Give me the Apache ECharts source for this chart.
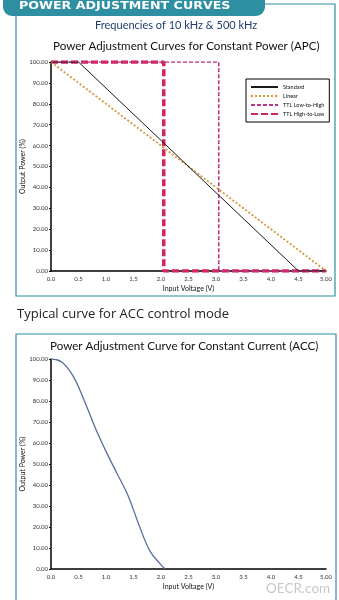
<html lang="en">
<head>
    <meta charset="UTF-8">
    <title>power adjustment curves</title>
    <script src="https://cdn.jsdelivr.net/npm/echarts@6/dist/echarts.min.js"></script>
    <style type="text/css">
        html, body { margin: 0; padding: 0; background: #fff; }
        #main { width: 339px; height: 600px; }
    </style>
</head>
<body>
<div id="main"></div>
<script>
    // APC curves (input voltage V -> output power %)
    var stdV = [0, 0.5, 4.5, 5];
    var stdP = [100, 100, 0, 0];
    var linV = [0, 5];
    var linP = [100, 0];
    var lowHighV = [0, 3.05, 3.05, 5];
    var lowHighP = [100, 100, 0, 0];
    var highLowV = [0, 2.05, 2.05, 5];
    var highLowP = [100, 100, 0, 0];
    // ACC curve
    var accV = [0, 0.2, 0.4, 0.6, 0.8, 1.0, 1.2, 1.4, 1.6, 1.8, 2.0, 2.08];
    var accP = [100, 98.5, 92, 80.5, 67.5, 56, 45.5, 35, 21, 8.5, 2, 0];

    function pairs(xs, ys) {
        return xs.map(function (x, i) { return [x, ys[i]]; });
    }

    var teal = '#2e8fa3';
    var lblFont = 'Lato';

    function xAxisFor(idx) {
        return {
            gridIndex: idx, type: 'value', min: 0, max: 5, interval: 0.5,
            name: 'Input Voltage (V)', nameLocation: 'middle', nameGap: 14,
            nameMoveOverlap: false,
            nameTextStyle: { fontSize: 7, fontFamily: lblFont, color: '#111' },
            axisLine: { lineStyle: { color: '#000', width: 1.5 } },
            axisTick: { show: false },
            splitLine: { show: false },
            axisLabel: {
                fontSize: 6, fontFamily: lblFont, color: '#333', margin: 5,
                formatter: function (v) { return v === 5 ? '5.00' : v.toFixed(1); }
            }
        };
    }
    function yAxisFor(idx) {
        return {
            gridIndex: idx, type: 'value', min: 0, max: 100, interval: 10,
            name: 'Output Power (%)', nameLocation: 'middle', nameGap: 25,
            nameMoveOverlap: false,
            nameTextStyle: { fontSize: 7, fontFamily: lblFont, color: '#111' },
            axisLine: { show: true, lineStyle: { color: '#000', width: 1.5 } },
            axisTick: { show: true, length: 2, lineStyle: { color: '#000' } },
            splitLine: { show: false },
            axisLabel: {
                fontSize: 6, fontFamily: lblFont, color: '#333', margin: 3,
                formatter: function (v) { return v.toFixed(2); }
            }
        };
    }

    var myChart = echarts.init(document.getElementById('main'), null, { renderer: 'canvas' });
    var option = {
        animation: false,
        backgroundColor: '#fff',
        grid: [
            { left: 51, right: 13, top: 62, bottom: 329 },
            { left: 51, right: 13, top: 359, bottom: 31 }
        ],
        xAxis: [xAxisFor(0), xAxisFor(1)],
        yAxis: [yAxisFor(0), yAxisFor(1)],
        legend: {
            orient: 'vertical',
            left: 246, top: 79,
            padding: [5, 5, 5, 4],
            itemGap: 3,
            itemWidth: 27, itemHeight: 6,
            itemStyle: { opacity: 0 },
            borderColor: '#000', borderWidth: 1,
            textStyle: { fontSize: 5.5, fontFamily: lblFont, color: '#111' },
            data: ['Standard', 'Linear', 'TTL Low-to-High', 'TTL High-to-Low']
        },
        graphic: [
            // outer frames
            { type: 'rect', shape: { x: 16, y: 4, width: 319, height: 292 },
              style: { fill: 'none', stroke: teal, lineWidth: 1.2 }, z: 1 },
            { type: 'rect', shape: { x: 16, y: 334, width: 320, height: 280 },
              style: { fill: 'none', stroke: teal, lineWidth: 1.2 }, z: 1 },
            // header tab
            { type: 'rect', shape: { x: 3, y: -10, width: 262, height: 26, r: 9 },
              style: { fill: teal }, z: 2 },
            { type: 'text', x: 19, y: 1, scaleX: 1.15,
              style: { text: 'POWER ADJUSTMENT CURVES', fill: '#fff', font: 'bold 11px "DejaVu Sans"',
                       verticalAlign: 'top' }, z: 3 },
            { type: 'text', left: 95, top: 20,
              style: { text: 'Frequencies of 10 kHz & 500 kHz', fill: '#1f3c6e', font: '11px Lato' }, z: 3 },
            { type: 'text', left: 53, top: 40,
              style: { text: 'Power Adjustment Curves for Constant Power (APC)', fill: '#111', font: '11.6px Lato' }, z: 3 },
            { type: 'text', left: 17, top: 308,
              style: { text: 'Typical curve for ACC control mode', fill: '#222', font: '13px "Open Sans"' }, z: 3 },
            { type: 'text', left: 50, top: 340,
              style: { text: 'Power Adjustment Curve for Constant Current (ACC)', fill: '#111', font: '11.6px Lato' }, z: 3 },
            { type: 'text', left: 266, top: 582,
              style: { text: 'OECR.com', fill: '#c8c8c8', font: '13.5px Lato' }, z: 3 }
        ],
        series: [
            {
                name: 'TTL High-to-Low', type: 'line', xAxisIndex: 0, yAxisIndex: 0,
                data: pairs(highLowV, highLowP), symbol: 'none', z: 2,
                lineStyle: { color: '#d4245e', width: 3.5, type: [7, 3] },
                itemStyle: { color: '#d4245e' }
            },
            {
                name: 'TTL Low-to-High', type: 'line', xAxisIndex: 0, yAxisIndex: 0,
                data: pairs(lowHighV, lowHighP), symbol: 'none', z: 3,
                lineStyle: { color: '#bf3585', width: 1.6, type: [4, 2] },
                itemStyle: { color: '#bf3585' }
            },
            {
                name: 'Linear', type: 'line', xAxisIndex: 0, yAxisIndex: 0,
                data: pairs(linV, linP), symbol: 'none', z: 4,
                lineStyle: { color: '#d8963a', width: 1.8, type: [2, 2] },
                itemStyle: { color: '#d8963a' }
            },
            {
                name: 'Standard', type: 'line', xAxisIndex: 0, yAxisIndex: 0,
                data: pairs(stdV, stdP), symbol: 'none', z: 5,
                lineStyle: { color: '#1a1a1a', width: 1 },
                itemStyle: { color: '#1a1a1a' }
            },
            {
                name: 'ACC', type: 'line', xAxisIndex: 1, yAxisIndex: 1,
                data: pairs(accV, accP), symbol: 'none', smooth: 0.4,
                lineStyle: { color: '#5a6e9e', width: 1.3 }
            }
        ]
    };
    myChart.setOption(option);
</script>
</body>
</html>
